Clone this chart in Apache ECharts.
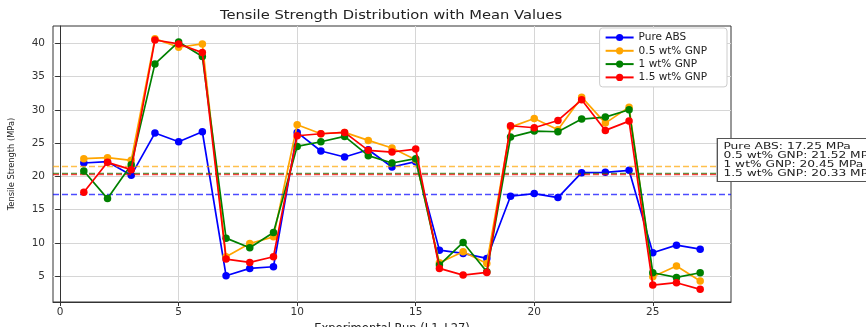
<!DOCTYPE html>
<html>
<head>
<meta charset="utf-8">
<script src="https://cdn.jsdelivr.net/npm/echarts@6/dist/echarts.min.js"></script>
<style>
html,body{margin:0;padding:0;background:#fff;overflow:hidden;}
#chart{width:866px;height:327px;}
</style>
</head>
<body>
<div id="chart"></div>
<script>
var runs = [1,2,3,4,5,6,7,8,9,10,11,12,13,14,15,16,17,18,19,20,21,22,23,24,25,26,27];
var seriesNames = ['Pure ABS', '0.5 wt% GNP', '1 wt% GNP', '1.5 wt% GNP'];
var pureABS = [22.0,22.2,20.15,26.5,25.2,26.7,5.05,6.15,6.4,26.6,23.8,22.9,24.0,21.4,22.2,8.9,8.4,7.65,17.0,17.4,16.8,20.55,20.6,20.9,8.5,9.65,9.05];
var gnp05 = [22.65,22.8,22.4,40.7,39.4,39.9,7.9,9.9,10.9,27.75,26.4,26.6,25.4,24.25,22.5,7.0,8.65,6.9,27.4,28.7,27.0,31.9,28.0,30.4,4.9,6.5,4.25];
var gnp1 = [20.8,16.65,21.75,36.9,40.2,38.0,10.7,9.25,11.55,24.5,25.2,26.0,23.1,22.0,22.65,6.65,10.05,5.65,25.9,26.8,26.7,28.6,28.9,30.0,5.5,4.8,5.5];
var gnp15 = [17.6,22.1,21.0,40.5,39.9,38.6,7.55,7.05,7.9,26.1,26.4,26.6,23.9,23.65,24.1,6.15,5.15,5.55,27.6,27.3,28.4,31.5,26.9,28.3,3.65,4.0,3.0];
var meanValues = [17.25, 21.52, 20.45, 20.33];
var xTicks = [0,5,10,15,20,25];
var yTicks = [5,10,15,20,25,30,35,40];
var titleText = 'Tensile Strength Distribution with Mean Values';
var xName = 'Experimental Run (L1\u2013L27)';
var yName = 'Tensile Strength (MPa)';

var colors = ['#0000ff', '#ffa500', '#008000', '#ff0000'];
var allData = [pureABS, gnp05, gnp1, gnp15];
var font = 'DejaVu Sans';

var series = allData.map(function (vals, i) {
  return {
    name: seriesNames[i],
    type: 'line',
    data: runs.map(function (r, j) { return [r, vals[j]]; }),
    symbol: 'circle',
    symbolSize: 7.5,
    lineStyle: { color: colors[i], width: 1.7 },
    itemStyle: { color: colors[i] },
    z: 3 + i,
    animation: false,
    markLine: {
      silent: true,
      symbol: ['none', 'none'],
      label: { show: false },
      lineStyle: { color: colors[i], type: [6, 3], width: 1.4, opacity: 0.7 },
      data: [{ yAxis: meanValues[i] }],
      animation: false
    }
  };
});

var annText = seriesNames.map(function (n, i) { return n + ': ' + meanValues[i].toFixed(2) + ' MPa'; }).join('\n');

var chart = echarts.init(document.getElementById('chart'), null, { renderer: 'canvas' });
chart.setOption({
  backgroundColor: '#fff',
  animation: false,
  textStyle: { fontFamily: font },
  legend: {
    orient: 'vertical',
    right: 139, top: 28,
    itemWidth: 28, itemHeight: 9, itemGap: 2.3,
    padding: [4, 20, 4, 5],
    backgroundColor: '#fff',
    borderColor: '#ccc', borderWidth: 1, borderRadius: 3,
    textStyle: { fontFamily: font, fontSize: 10.5, lineHeight: 10, color: '#222' },
    data: seriesNames
  },
  grid: { left: 53, right: 135, top: 26, bottom: 25, show: true, borderColor: '#333', borderWidth: 1, containLabel: false, outerBoundsMode: 'none' },
  xAxis: {
    type: 'value', min: -0.3, max: 28.3,
    name: xName, nameLocation: 'middle', nameGap: 13,
    nameTextStyle: { fontFamily: font, fontSize: 11.5, color: '#222' },
    axisLine: { show: true, lineStyle: { color: '#333' } },
    axisTick: { show: true, length: 4, lineStyle: { color: '#333' }, customValues: xTicks },
    axisLabel: { fontFamily: font, fontSize: 10.5, color: '#333', margin: 5, customValues: xTicks },
    splitLine: { show: true, lineStyle: { color: '#d6d6d6', width: 1 } }
  },
  yAxis: {
    type: 'value', min: 1.1, max: 42.6,
    name: yName, nameLocation: 'middle', nameGap: 37,
    nameTextStyle: { fontFamily: font, fontSize: 8.3, color: '#222' },
    axisLine: { show: true, lineStyle: { color: '#333' } },
    axisTick: { show: true, length: 5, lineStyle: { color: '#333' }, customValues: yTicks },
    axisLabel: { fontFamily: font, fontSize: 10.5, color: '#333', margin: 8, customValues: yTicks },
    splitLine: { show: true, lineStyle: { color: '#d6d6d6', width: 1 } }
  },
  graphic: [{
    type: 'text',
    x: 391, y: 16, scaleX: 1.28, z: 100,
    style: {
      text: titleText,
      fontFamily: font, fontSize: 11.5, fill: '#222',
      align: 'center', verticalAlign: 'middle'
    }
  }, {
    type: 'text',
    x: 718, y: 139, scaleX: 1.36, z: 100,
    style: {
      text: annText,
      fontFamily: font, fontSize: 9, lineHeight: 9, fill: '#222',
      backgroundColor: '#fff', borderColor: '#555', borderWidth: 1,
      padding: [3, 4, 3, 4]
    }
  }],
  series: series
});
</script>
</body>
</html>
